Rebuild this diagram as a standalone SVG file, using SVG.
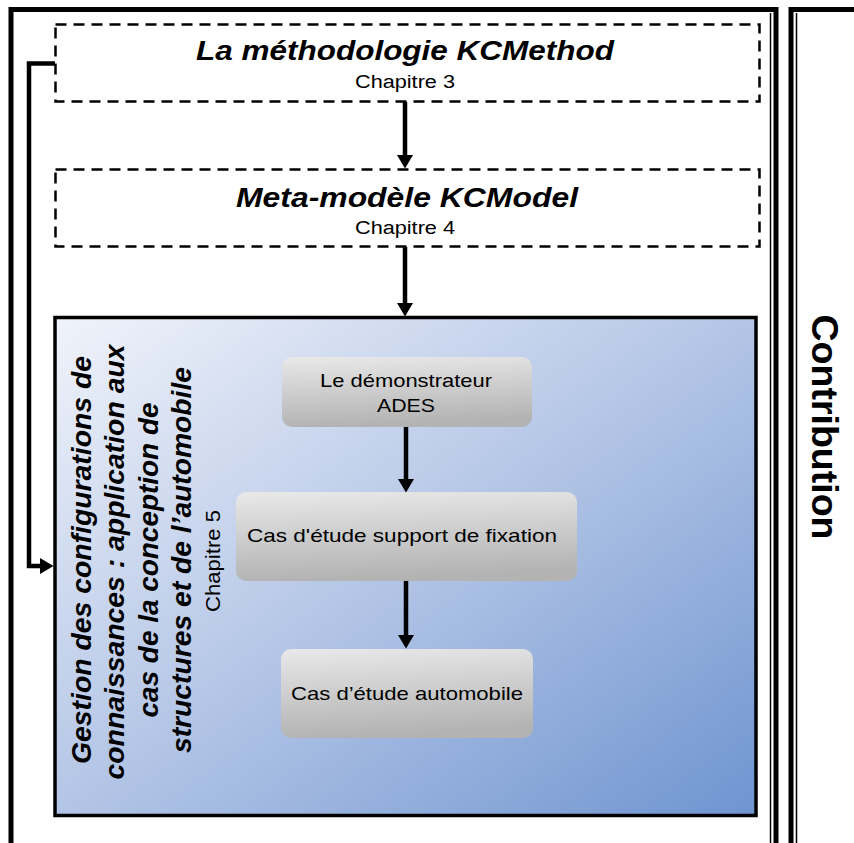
<svg xmlns="http://www.w3.org/2000/svg" width="854" height="843" viewBox="0 0 854 843">
<defs>
<linearGradient id="blue" x1="0" y1="0" x2="1" y2="1">
<stop offset="0" stop-color="#f0f3fa"/>
<stop offset="0.5" stop-color="#b3c5e6"/>
<stop offset="1" stop-color="#6e94d0"/>
</linearGradient>
<linearGradient id="gray" x1="0" y1="0" x2="0.15" y2="1">
<stop offset="0" stop-color="#e9e9e9"/>
<stop offset="1" stop-color="#b3b3b3"/>
</linearGradient>
<marker id="ah" markerUnits="userSpaceOnUse" markerWidth="14" markerHeight="16" viewBox="0 0 14 16" refX="0" refY="8" orient="auto">
<path d="M0,0 L13.5,8 L0,16 z" fill="#000"/>
</marker>
<style>
.frame{fill:none;stroke:#000;stroke-width:5}
.thin{fill:none;stroke:#000;stroke-width:1.5}
.dash{fill:#fff;stroke:#000;stroke-width:2.5;stroke-dasharray:11 7}
.conn{fill:none;stroke:#000;stroke-width:4.5;marker-end:url(#ah)}
.title{font-family:"Liberation Sans",Arial,sans-serif;font-weight:bold;font-style:italic;font-size:28px;text-anchor:middle}
.sub{font-family:"Liberation Sans",Arial,sans-serif;font-size:18px;text-anchor:middle}
.rot{font-family:"Liberation Sans",Arial,sans-serif;font-weight:bold;font-style:italic;font-size:27px;text-anchor:middle}
.box{fill:url(#gray);stroke:none}
.lbl{font-family:"Liberation Sans",Arial,sans-serif;font-size:18.5px;text-anchor:middle}
</style>
</defs>
<rect width="854" height="843" fill="#fff"/>

<g id="frame-main">
<rect class="frame" x="11" y="9.5" width="765" height="850"/>
<line class="thin" x1="770.5" y1="13" x2="770.5" y2="843"/>
</g>

<g id="frame-contribution">
<rect class="frame" x="791" y="9.5" width="120" height="850"/>
<line class="thin" x1="796.5" y1="13" x2="796.5" y2="843"/>
<text transform="translate(812,427) rotate(90)" font-family="'Liberation Sans',Arial,sans-serif" font-weight="bold" font-size="36" text-anchor="middle" textLength="225" lengthAdjust="spacingAndGlyphs">Contribution</text>
</g>

<g id="kcmethod">
<rect class="dash" x="55.5" y="24.5" width="704" height="77"/>
<text class="title" x="405" y="60" textLength="418" lengthAdjust="spacingAndGlyphs">La méthodologie KCMethod</text>
<text class="sub" x="405" y="88" textLength="100" lengthAdjust="spacingAndGlyphs">Chapitre 3</text>
</g>

<g id="kcmodel">
<rect class="dash" x="55.5" y="169.5" width="704" height="77"/>
<text class="title" x="407" y="207" textLength="342" lengthAdjust="spacingAndGlyphs">Meta-modèle KCModel</text>
<text class="sub" x="405" y="234" textLength="100" lengthAdjust="spacingAndGlyphs">Chapitre 4</text>
</g>

<g id="chapitre5">
<rect x="55" y="317.5" width="701" height="498" fill="url(#blue)" stroke="#000" stroke-width="3.5"/>
<text class="rot" transform="translate(91,560) rotate(-90)" textLength="408" lengthAdjust="spacingAndGlyphs">Gestion des configurations de</text>
<text class="rot" transform="translate(124,562) rotate(-90)" textLength="435" lengthAdjust="spacingAndGlyphs">connaissances : application aux</text>
<text class="rot" transform="translate(158,560) rotate(-90)" textLength="315" lengthAdjust="spacingAndGlyphs">cas de la conception de</text>
<text class="rot" transform="translate(191,560) rotate(-90)" textLength="386" lengthAdjust="spacingAndGlyphs">structures et de l’automobile</text>
<text transform="translate(220,561) rotate(-90)" font-family="'Liberation Sans',Arial,sans-serif" font-size="20" text-anchor="middle" textLength="102" lengthAdjust="spacingAndGlyphs">Chapitre 5</text>
</g>

<g id="ades">
<rect class="box" x="282" y="357" width="250" height="70" rx="10"/>
<text class="lbl" x="406" y="387" textLength="172" lengthAdjust="spacingAndGlyphs">Le démonstrateur</text>
<text class="lbl" x="406" y="412" textLength="58" lengthAdjust="spacingAndGlyphs">ADES</text>
</g>

<g id="support">
<rect class="box" x="236" y="492" width="341" height="89" rx="10"/>
<text class="lbl" x="402" y="542" textLength="310" lengthAdjust="spacingAndGlyphs">Cas d'étude support de fixation</text>
</g>

<g id="automobile">
<rect class="box" x="281" y="649" width="252" height="89" rx="10"/>
<text class="lbl" x="407" y="700" textLength="232" lengthAdjust="spacingAndGlyphs">Cas d’étude automobile</text>
</g>

<g id="connectors">
<path class="conn" d="M405,102 V155"/>
<path class="conn" d="M405,247 V303"/>
<path class="conn" d="M406,427 V479"/>
<path class="conn" d="M406,581 V635"/>
<path class="conn" d="M55,63.5 H29 V566 H40"/>
</g>
</svg>
